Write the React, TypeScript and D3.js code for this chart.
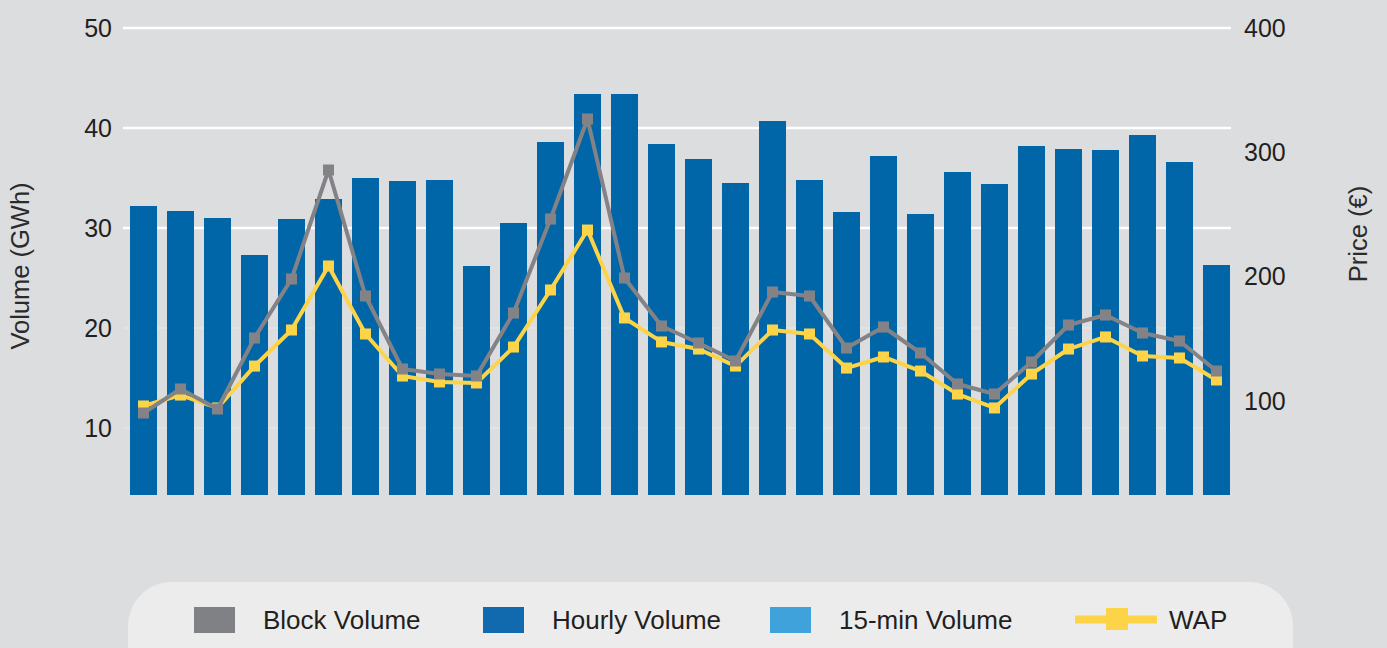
import React from 'react';
import * as d3 from 'd3';

const W = 1387;
const H = 648;

// 30 days
const days = d3.range(1, 31).map(String);

const hourlyVolume = [
  32.2, 31.7, 31.0, 27.3, 30.9, 32.9, 35.0, 34.7, 34.8, 26.2,
  30.5, 38.6, 43.4, 43.4, 38.4, 36.9, 34.5, 40.7, 34.8, 31.6,
  37.2, 31.4, 35.6, 34.4, 38.2, 37.9, 37.8, 39.3, 36.6, 26.3,
];

const blockVolume = [
  11.5, 13.9, 11.9, 19.0, 24.9, 35.8, 23.2, 15.9, 15.4, 15.2,
  21.5, 30.9, 40.9, 25.0, 20.2, 18.5, 16.7, 23.6, 23.2, 18.0,
  20.1, 17.5, 14.4, 13.4, 16.6, 20.3, 21.3, 19.5, 18.7, 15.7,
];

const wap = [
  96.0, 104.8, 94.4, 128.1, 157.1, 208.6, 153.9, 120.1, 115.3, 114.5,
  143.4, 189.3, 237.5, 166.8, 147.5, 141.8, 128.1, 157.1, 153.9, 126.5,
  135.4, 124.1, 105.6, 94.4, 121.7, 141.8, 151.5, 136.2, 134.6, 116.9,
];

const volumeTicks = [10, 20, 30, 40, 50];
const priceTicks = [100, 200, 300, 400];

const legendItems = [
  { label: 'Block Volume', color: '#808184', kind: 'rect', x: 194 },
  { label: 'Hourly Volume', color: '#106aad', kind: 'rect', x: 483 },
  { label: '15-min Volume', color: '#3fa2db', kind: 'rect', x: 770 },
  { label: 'WAP', color: '#fdd447', kind: 'line', x: 1075 },
];

const COLORS = {
  bg: '#dcdddf',
  bar: '#0066a8',
  block: '#838387',
  wap: '#fdd447',
  text: '#231f20',
};

const FONT = '"Liberation Sans", Arial, sans-serif';

export default function App() {
  const plot = { left: 123, right: 1231, top: 28, bottom: 495 };

  const x = d3.scaleBand<string>()
    .domain(days)
    .range([125, 1235])
    .paddingInner(0.27)
    .paddingOuter(0.135);

  const yVol = d3.scaleLinear().domain([3.3, 50]).range([plot.bottom, plot.top]);
  const yPrice = d3.scaleLinear().domain([24.4, 400]).range([plot.bottom, plot.top]);

  const cx = (d: string) => (x(d) ?? 0) + x.bandwidth() / 2;

  const blockLine = d3.line<number>()
    .x((_, i) => cx(days[i]))
    .y((v) => yVol(v));

  const wapLine = d3.line<number>()
    .x((_, i) => cx(days[i]))
    .y((v) => yPrice(v));

  const m = 11; // marker size

  return (
    <svg
      width={W}
      height={H}
      style={{ position: 'absolute', left: 0, top: 0, display: 'block', fontFamily: FONT }}
    >
      <rect width={W} height={H} fill={COLORS.bg} />

      {/* grid */}
      {volumeTicks.map((t) => (
        <line
          key={t}
          x1={plot.left}
          x2={plot.right}
          y1={yVol(t)}
          y2={yVol(t)}
          stroke="white"
          strokeWidth={t >= 30 ? 2.5 : 1}
          strokeOpacity={t >= 30 ? 1 : 0.35}
        />
      ))}

      {/* hourly volume bars */}
      {hourlyVolume.map((v, i) => (
        <rect
          key={i}
          x={x(days[i])}
          y={yVol(v)}
          width={x.bandwidth()}
          height={plot.bottom - yVol(v)}
          fill={COLORS.bar}
        />
      ))}

      {/* WAP */}
      <path d={wapLine(wap) ?? ''} fill="none" stroke={COLORS.wap} strokeWidth={4} strokeLinejoin="round" />
      {wap.map((v, i) => (
        <rect key={i} x={cx(days[i]) - m / 2} y={yPrice(v) - m / 2} width={m} height={m} fill={COLORS.wap} />
      ))}

      {/* block volume */}
      <path d={blockLine(blockVolume) ?? ''} fill="none" stroke={COLORS.block} strokeWidth={4} strokeLinejoin="round" />
      {blockVolume.map((v, i) => (
        <rect key={i} x={cx(days[i]) - m / 2} y={yVol(v) - m / 2} width={m} height={m} fill={COLORS.block} />
      ))}

      {/* left axis labels */}
      {volumeTicks.map((t) => (
        <text key={t} x={112} y={yVol(t)} dy="0.35em" textAnchor="end" fontSize={25} fill={COLORS.text}>
          {t}
        </text>
      ))}
      {/* right axis labels */}
      {priceTicks.map((t) => (
        <text key={t} x={1244} y={yPrice(t)} dy="0.35em" textAnchor="start" fontSize={25} fill={COLORS.text}>
          {t}
        </text>
      ))}

      <text
        transform={`translate(29,266) rotate(-90)`}
        textAnchor="middle"
        fontSize={25.5}
        fill="#2b2b2b"
      >
        Volume (GWh)
      </text>
      <text
        transform={`translate(1367,234) rotate(-90)`}
        textAnchor="middle"
        fontSize={25.5}
        fill="#2b2b2b"
      >
        Price (€)
      </text>

      {/* legend */}
      <rect x={128} y={582} width={1165} height={120} rx={44} fill="#ececec" />
      {legendItems.map((it) => (
        <g key={it.label}>
          {it.kind === 'rect' ? (
            <rect x={it.x} y={607} width={41} height={26} fill={it.color} />
          ) : (
            <g>
              <rect x={it.x} y={615.5} width={82} height={8} fill={it.color} />
              <rect x={it.x + 31} y={608} width={22} height={22} fill={it.color} />
            </g>
          )}
          <text
            x={it.kind === 'rect' ? it.x + 69 : it.x + 94}
            y={620}
            dy="0.36em"
            fontSize={26}
            fill={COLORS.text}
          >
            {it.label}
          </text>
        </g>
      ))}
    </svg>
  );
}
